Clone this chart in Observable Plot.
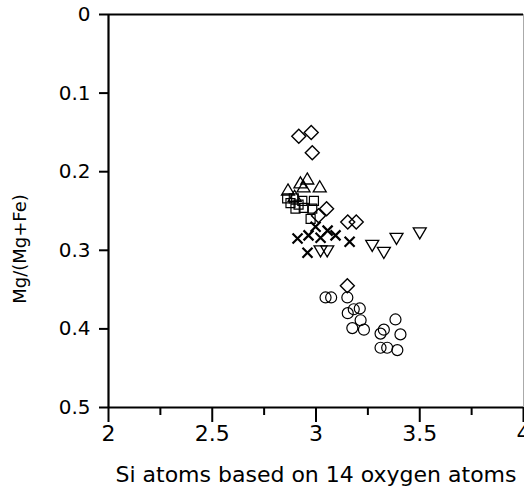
<!DOCTYPE html>
<html>
<head>
<meta charset="utf-8">
<script src="https://cdn.jsdelivr.net/npm/d3@7"></script>
<script src="https://cdn.jsdelivr.net/npm/@observablehq/plot@0.6"></script>
<style>
  html, body { margin: 0; padding: 0; background: #fff; }
  #chart svg { display: block; }
</style>
</head>
<body>
<div id="chart"></div>
<script>
// Series values: [Si atoms, Mg/(Mg+Fe)]
const diamonds = [
  [2.917, 0.155], [2.977, 0.150], [2.982, 0.176], [3.051, 0.247],
  [3.012, 0.256], [3.153, 0.264], [3.194, 0.264], [3.151, 0.345]
];
const trianglesUp = [
  [2.958, 0.210], [2.925, 0.215], [3.018, 0.220], [2.865, 0.224],
  [2.940, 0.220], [2.897, 0.232]
];
const squares = [
  [2.861, 0.234], [2.893, 0.234], [2.934, 0.237], [2.990, 0.237],
  [2.901, 0.247], [2.941, 0.246], [2.982, 0.247], [2.974, 0.260],
  [2.877, 0.240], [2.916, 0.242]
];
const crosses = [
  [2.911, 0.285], [2.964, 0.281], [2.998, 0.270], [3.022, 0.284],
  [3.056, 0.275], [3.094, 0.281], [3.162, 0.289], [2.959, 0.303]
];
const trianglesDown = [
  [3.022, 0.300], [3.054, 0.300], [3.271, 0.293], [3.327, 0.302],
  [3.388, 0.284], [3.500, 0.277]
];
const circles = [
  [3.046, 0.360], [3.073, 0.360], [3.151, 0.360], [3.153, 0.380],
  [3.182, 0.375], [3.211, 0.374], [3.215, 0.389], [3.175, 0.399],
  [3.231, 0.401], [3.383, 0.388], [3.327, 0.401], [3.311, 0.406],
  [3.407, 0.407], [3.311, 0.424], [3.343, 0.424], [3.392, 0.427]
];

const xTicks = [2, 2.5, 3, 3.5, 4];
const xMinorTicks = [2.25, 2.75, 3.25, 3.75];
const yTicks = [0, 0.1, 0.2, 0.3, 0.4, 0.5];
const xLabel = "Si atoms based on 14 oxygen atoms";
const yLabel = "Mg/(Mg+Fe)";

// custom symbol shapes (size = PI r^2)
const rad = (s) => Math.sqrt(s / Math.PI);
const symDiamond = { draw(c, s) { const r = rad(s); c.moveTo(0, -r); c.lineTo(r, 0); c.lineTo(0, r); c.lineTo(-r, 0); c.closePath(); } };
const symTriUp = { draw(c, s) { const r = rad(s); const h = r * 1.7; c.moveTo(0, -h * 0.6); c.lineTo(r, h * 0.4); c.lineTo(-r, h * 0.4); c.closePath(); } };
const symTriDown = { draw(c, s) { const r = rad(s); const h = r * 1.7; c.moveTo(0, h * 0.6); c.lineTo(r, -h * 0.4); c.lineTo(-r, -h * 0.4); c.closePath(); } };
const symSquare = { draw(c, s) { const r = rad(s); c.rect(-r, -r, 2 * r, 2 * r); } };
const symCross = { draw(c, s) { const r = rad(s); c.moveTo(-r, -r); c.lineTo(r, r); c.moveTo(r, -r); c.lineTo(-r, r); } };
const symCircle = { draw(c, s) { const r = rad(s); c.moveTo(r, 0); c.arc(0, 0, r, 0, 2 * Math.PI); c.closePath(); } };

const dotOpts = (sym, r, sw) => ({
  x: d => d[0], y: d => d[1], symbol: sym, r, fill: "none", stroke: "black", strokeWidth: sw
});

const font = "DejaVu Sans, sans-serif";

const chart = Plot.plot({
  width: 524,
  height: 486,
  marginLeft: 108,
  marginRight: 1,
  marginTop: 14,
  marginBottom: 79,
  style: { fontFamily: font, color: "black", background: "white", overflow: "visible" },
  x: { domain: [2, 4], axis: null },
  y: { domain: [0, 0.5], reverse: true, axis: null },
  marks: [
    Plot.axisX({ ticks: xMinorTicks, tickSize: 8, text: null, strokeWidth: 2, label: null }),
    Plot.axisX({ ticks: xTicks, tickSize: 15, tickPadding: 3, strokeWidth: 2, fontSize: 22, label: null, tickFormat: d => String(d) }),
    Plot.axisY({ ticks: yTicks, tickSize: 9, tickPadding: 9, strokeWidth: 2, fontSize: 20, label: null, tickFormat: d => String(d) }),
    Plot.ruleX([4], { stroke: "#aaa", strokeWidth: 1 }),
    Plot.ruleX([2], { stroke: "black", strokeWidth: 2.2 }),
    Plot.ruleY([0], { stroke: "black", strokeWidth: 2 }),
    Plot.ruleY([0.5], { stroke: "black", strokeWidth: 2.2 }),
    Plot.dot(diamonds, dotOpts(symDiamond, 7, 1.4)),
    Plot.dot(trianglesUp, dotOpts(symTriUp, 6.5, 1.3)),
    Plot.dot(squares, dotOpts(symSquare, 4.5, 1.2)),
    Plot.dot(crosses, dotOpts(symCross, 5, 2.2)),
    Plot.dot(trianglesDown, dotOpts(symTriDown, 6.5, 1.3)),
    Plot.dot(circles, dotOpts(symCircle, 5.5, 1.2)),
    Plot.text([xLabel], { frameAnchor: "bottom", lineAnchor: "bottom", dy: 74, fontSize: 22, fill: "black" }),
    Plot.text([yLabel], { frameAnchor: "left", textAnchor: "middle", rotate: -90, dx: -88, dy: 38, fontSize: 18, fill: "black" })
  ]
});
document.getElementById("chart").appendChild(chart);
</script>
</body>
</html>
